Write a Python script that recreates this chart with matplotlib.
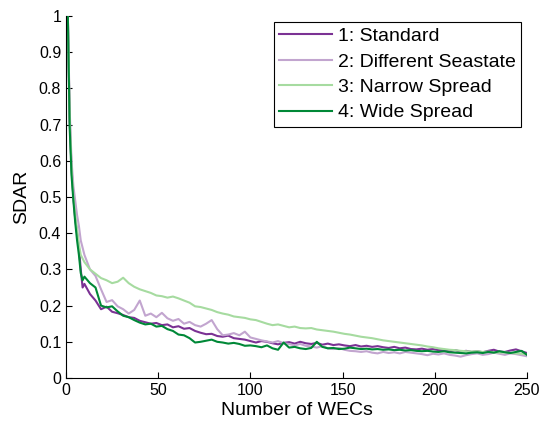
import matplotlib
matplotlib.use('Agg')
import matplotlib.pyplot as plt

plt.rcParams['font.family'] = ['Liberation Sans', 'DejaVu Sans']

# number of WECs in the array
wecs = list(range(1, 11)) + list(range(13, 251, 3))

standard = [1.0, 0.71, 0.58, 0.50, 0.44, 0.40, 0.36, 0.30, 0.25, 0.26,
            0.232, 0.214, 0.19, 0.197, 0.183, 0.179, 0.174, 0.168, 0.166, 0.158,
            0.154, 0.15, 0.152, 0.146, 0.148, 0.14, 0.143, 0.136, 0.138, 0.13,
            0.125, 0.121, 0.122, 0.116, 0.114, 0.117, 0.11, 0.108, 0.106, 0.102,
            0.098, 0.102, 0.1, 0.096, 0.093, 0.097, 0.099, 0.095, 0.1, 0.096,
            0.094, 0.097, 0.092, 0.095, 0.091, 0.093, 0.09, 0.088, 0.091, 0.087,
            0.089, 0.086, 0.088, 0.085, 0.083, 0.086, 0.082, 0.084, 0.08, 0.079,
            0.081, 0.078, 0.08, 0.077, 0.076, 0.074, 0.077, 0.073, 0.075, 0.072,
            0.074, 0.071, 0.075, 0.078, 0.073, 0.072, 0.076, 0.079, 0.074, 0.069]

seastate = [1.0, 0.74, 0.60, 0.53, 0.49, 0.45, 0.42, 0.38, 0.36, 0.34,
            0.30, 0.282, 0.245, 0.21, 0.215, 0.198, 0.19, 0.178, 0.188, 0.214,
            0.172, 0.178, 0.168, 0.18, 0.165, 0.158, 0.163, 0.15, 0.155, 0.146,
            0.142, 0.15, 0.16, 0.135, 0.118, 0.12, 0.124, 0.118, 0.128, 0.112,
            0.108, 0.104, 0.101, 0.098, 0.102, 0.096, 0.094, 0.09, 0.094, 0.089,
            0.087, 0.084, 0.088, 0.082, 0.08, 0.083, 0.078, 0.075, 0.074, 0.072,
            0.074, 0.07, 0.068, 0.072, 0.069, 0.071, 0.068, 0.072, 0.07, 0.068,
            0.066, 0.063, 0.067, 0.065, 0.068, 0.064, 0.062, 0.059, 0.063, 0.066,
            0.068, 0.064, 0.066, 0.07, 0.067, 0.064, 0.068, 0.066, 0.063, 0.06]

narrow = [1.0, 0.72, 0.58, 0.50, 0.45, 0.41, 0.37, 0.34, 0.33, 0.32,
          0.30, 0.288, 0.276, 0.27, 0.262, 0.266, 0.277, 0.262, 0.252, 0.245,
          0.24, 0.235, 0.228, 0.226, 0.222, 0.225, 0.22, 0.214, 0.208, 0.198,
          0.196, 0.192, 0.188, 0.182, 0.178, 0.175, 0.17, 0.168, 0.166, 0.162,
          0.16, 0.155, 0.15, 0.146, 0.148, 0.144, 0.14, 0.142, 0.138, 0.137,
          0.138, 0.134, 0.132, 0.13, 0.128, 0.125, 0.122, 0.12, 0.117, 0.114,
          0.112, 0.11, 0.107, 0.104, 0.102, 0.1, 0.098, 0.096, 0.094, 0.092,
          0.09, 0.087, 0.085, 0.082, 0.08, 0.078, 0.077, 0.075, 0.074, 0.073,
          0.074, 0.072, 0.073, 0.071, 0.07, 0.071, 0.069, 0.068, 0.067, 0.065]

wide = [1.0, 0.69, 0.56, 0.49, 0.43, 0.38, 0.34, 0.29, 0.27, 0.28,
        0.262, 0.25, 0.2, 0.195, 0.198, 0.184, 0.172, 0.168, 0.16, 0.153,
        0.148, 0.15, 0.142, 0.144, 0.135, 0.13, 0.12, 0.118, 0.11, 0.098,
        0.1, 0.103, 0.106, 0.1, 0.098, 0.095, 0.097, 0.094, 0.089, 0.09,
        0.088, 0.085, 0.09, 0.082, 0.078, 0.098, 0.084, 0.086, 0.082, 0.08,
        0.083, 0.1, 0.086, 0.082, 0.083, 0.08, 0.081, 0.084, 0.082, 0.08,
        0.081, 0.079, 0.08, 0.078, 0.079, 0.077, 0.078, 0.076, 0.077, 0.075,
        0.074, 0.075, 0.073, 0.072, 0.074, 0.071, 0.07, 0.069, 0.068, 0.07,
        0.071, 0.069, 0.072, 0.07, 0.074, 0.071, 0.069, 0.072, 0.075, 0.064]

labels = ['1: Standard', '2: Different Seastate', '3: Narrow Spread', '4: Wide Spread']
colors = ['#7b3294', '#c2a5cf', '#a6dba0', '#008837']

fig = plt.figure(figsize=(5.46, 4.26), dpi=100)
ax = fig.add_axes([66 / 546, 48 / 426, 461 / 546, 362 / 426])

for ys, lab, c in zip([standard, seastate, narrow, wide], labels, colors):
    ax.plot(wecs, ys, color=c, lw=1.5, label=lab)

ax.set_xlim(0, 250)
ax.set_ylim(0, 1)
ax.set_xticks(range(0, 251, 50))
ax.set_yticks([i / 10 for i in range(11)])
ax.set_yticklabels(['0'] + ['0.%d' % i for i in range(1, 10)] + ['1'])
ax.tick_params(direction='in', length=4, labelsize=11.5, width=0.8)
for s in ['top', 'right']:
    ax.spines[s].set_visible(False)
ax.set_xlabel('Number of WECs', fontsize=14, labelpad=3)
ax.set_ylabel('SDAR', fontsize=14, labelpad=6)

leg = ax.legend(loc='upper right', bbox_to_anchor=(0.988, 0.984), fontsize=14,
                fancybox=False, framealpha=1, edgecolor='black',
                handlelength=2.7, handletextpad=0.3, labelspacing=0.4,
                borderpad=0.3, borderaxespad=0)
leg.get_frame().set_linewidth(0.8)

fig.savefig('out.png', dpi=100)
